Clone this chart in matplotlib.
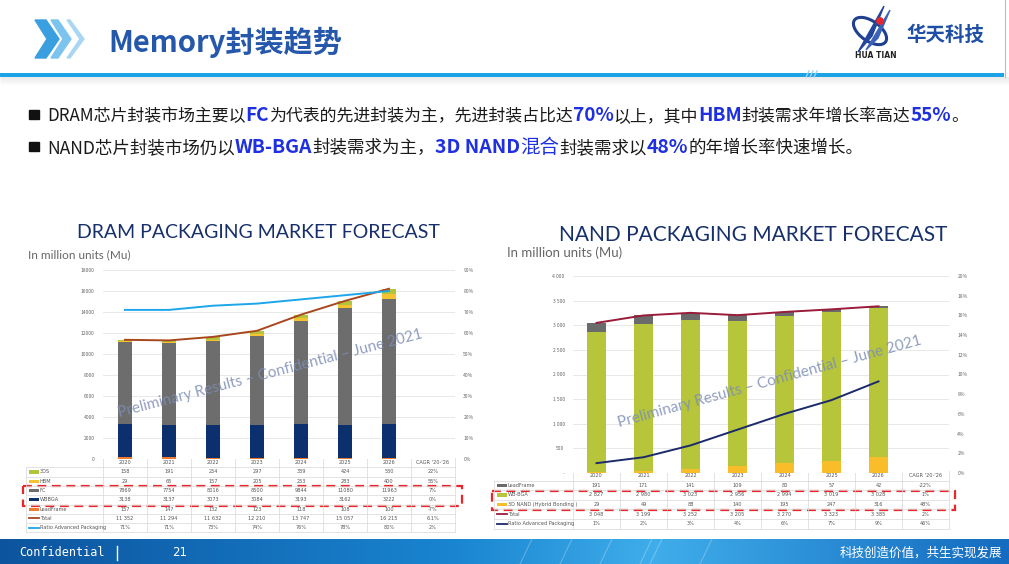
import numpy as np
import matplotlib.pyplot as plt
from matplotlib.transforms import blended_transform_factory
from matplotlib.patches import Rectangle, Polygon, Circle, Ellipse
from matplotlib.font_manager import FontProperties

plt.rcParams['font.family'] = ['Noto Sans CJK SC', 'DejaVu Sans']

# ---- data ----
years = ['2020', '2021', '2022', '2023', '2024', '2025', '2026']

dram_3ds = [158, 191, 254, 297, 339, 424, 530]
dram_hbm = [29, 65, 157, 205, 253, 283, 400]
dram_fc = [7869, 7754, 8016, 8500, 9844, 11080, 11963]
dram_wbbga = [3138, 3137, 3073, 3084, 3193, 3162, 3222]
dram_leadframe = [157, 147, 132, 123, 118, 108, 100]
dram_total = [11352, 11294, 11632, 12210, 13747, 15057, 16215]
dram_ratio = [71, 71, 73, 74, 76, 78, 80]
dram_cagr = ['22%', '55%', '7%', '0%', '-7%', '6.1%', '2%']

nand_leadframe = [191, 171, 141, 109, 80, 57, 42]
nand_wbbga = [2827, 2980, 3023, 2956, 2994, 3019, 3028]
nand_3d = [29, 49, 88, 140, 195, 247, 316]
nand_total = [3048, 3199, 3252, 3205, 3270, 3323, 3385]
nand_ratio = [1.0, 1.6, 2.8, 4.4, 6.0, 7.4, 9.3]
nand_ratio_labels = ['1%', '2%', '3%', '4%', '6%', '7%', '9%']
nand_cagr = ['-22%', '1%', '48%', '2%', '46%']

bullet1 = [('DRAM芯片封装市场主要以', False), ('FC', True), ('为代表的先进封装为主，先进封装占比达', False),
           ('70%', True), ('以上，其中', False), ('HBM', True), ('封装需求年增长率高达', False),
           ('55%', True), ('。', False)]
bullet2 = [('NAND芯片封装市场仍以', False), ('WB-BGA', True), ('封装需求为主，', False),
           ('3D NAND', True), ('混合', 'blue'), ('封装需求以', False), ('48%', True),
           ('的年增长率快速增长。', False)]

W, H = 1009, 564
fig = plt.figure(figsize=(W / 100, H / 100), dpi=100)
bg = fig.add_axes([0, 0, 1, 1])
bg.set_xlim(0, W)
bg.set_ylim(H, 0)
bg.axis('off')
renderer = fig.canvas.get_renderer()

DARK = '#1a1a1a'
BLUE = '#1f30e0'
NAVY = '#17306b'
GRID = '#e4e4e4'


def rect(l, t, r, b):
    return [l / W, 1 - b / H, (r - l) / W, (b - t) / H]


# ---- header ----
bg.add_patch(Polygon([(35, 20), (46, 20), (59, 39), (46, 58), (35, 58), (47, 39)], color='#3a9fe0'))
bg.add_patch(Polygon([(51, 20), (58, 20), (71, 39), (58, 58), (51, 58), (63, 39)], color='#7cc3ee'))
bg.add_patch(Polygon([(67, 20), (70, 20), (84, 39), (70, 58), (67, 58), (80, 39)], color='#a9d7f3'))
bg.text(108, 42, 'Memory封装趋势', fontsize=21, fontweight='bold', color='#2557ab', va='center')

for i in range(8):
    bg.plot([0, W], [77 + i, 77 + i], color='#888888', alpha=0.12 * (1 - i / 8), lw=1, solid_capstyle='butt')
bg.add_patch(Rectangle((0, 73), 1004, 4, color='#1ba3e6', lw=0))
for dx in (806, 810, 814):
    bg.plot([dx, dx + 3], [77, 71], color='#9ad4f2', lw=1)
bg.plot([1005, 1005], [0, 77], color='#bbbbbb', lw=0.8)

# logo
bg.add_patch(Ellipse((870, 31), 38, 20, angle=35, fill=False, ec='#1f3f8f', lw=2.2))
bg.add_patch(Polygon([(858, 52), (884, 6), (872, 36)], color='#23469a'))
bg.add_patch(Polygon([(866, 50), (890, 10), (878, 38)], color='#3a63b8'))
bg.add_patch(Circle((880, 21), 3.2, color='#e8262b'))
bg.text(876, 56, 'HUA TIAN', fontsize=5.5, fontweight='bold', color='#222222', ha='center', va='center',
        family='DejaVu Sans')
bg.text(945, 35, '华天科技', fontsize=14, fontweight='bold', color='#1f4ea6', ha='center', va='center')


# ---- bullets ----
def advance(s, size, weight):
    # width of s measured against a trailing bar, so side bearings don't leave gaps
    prop = FontProperties(family=['Noto Sans CJK SC', 'DejaVu Sans'], size=size, weight=weight)
    w1 = renderer.get_text_width_height_descent(s + '|', prop, False)[0]
    w2 = renderer.get_text_width_height_descent('|', prop, False)[0]
    return w1 - w2


def draw_runs(x, y, runs, norm=12.2, big=13.7):
    for s, hl in runs:
        if hl is True:
            size, weight, color = big, 'bold', BLUE
        elif hl == 'blue':
            size, weight, color = big, 'normal', BLUE
        else:
            size, weight, color = norm, 'normal', DARK
        bg.text(x, y, s, fontsize=size, fontweight=weight, color=color, va='baseline')
        x += advance(s, size, weight)


bg.add_patch(Rectangle((29, 110), 10, 9, color='#111111'))
draw_runs(47, 121, bullet1)
bg.add_patch(Rectangle((29, 142), 10, 9, color='#111111'))
draw_runs(47, 153, bullet2, norm=12.6, big=14)


# ---- table helper ----
def draw_table(ax, left, right, top, row_h, header, rows):
    tr = blended_transform_factory(ax.transData, bg.transData)
    n_rows = len(rows) + 1
    bottom = top + row_h * n_rows
    for i, h in enumerate(header):
        bg.text(i, top + row_h / 2, h, transform=tr, fontsize=3.6, color='#555555',
                ha='center', va='center', family='DejaVu Sans')
    for i in range(len(header) + 1):
        bg.plot([i - 0.5, i - 0.5], [top, bottom], transform=tr, color='#d8d8d8', lw=0.5)
    bg.plot([left, left], [top + row_h, bottom], color='#d8d8d8', lw=0.5)
    for j in range(1, n_rows + 1):
        bg.plot([left, right], [top + row_h * j, top + row_h * j], color='#d8d8d8', lw=0.5)
    for j, (label, color, kind, cells) in enumerate(rows):
        yc = top + row_h * (j + 1.5)
        if kind == 'bar':
            bg.add_patch(Rectangle((left + 3, yc - 1.6), 10, 3.2, color=color, lw=0))
        else:
            bg.plot([left + 3, left + 13], [yc, yc], color=color, lw=1.3)
        bg.text(left + 14, yc, label, fontsize=3.6, color='#555555', va='center', family='DejaVu Sans')
        for i, c in enumerate(cells):
            bg.text(i, yc, c, transform=tr, fontsize=3.6, color='#555555', ha='center', va='center',
                    family='DejaVu Sans')


def style_axes(ax, ax2):
    for a in (ax, ax2):
        for s in a.spines.values():
            s.set_visible(False)
        a.tick_params(length=0, labelsize=3.6, labelcolor='#666666', pad=6)
    ax.set_xticks([])
    ax.set_xlim(-0.5, 7.5)
    ax.yaxis.grid(True, color=GRID, lw=0.6)
    ax.set_axisbelow(True)


x = np.arange(len(years))

# ---- DRAM chart ----
ax = fig.add_axes(rect(103, 270, 455, 459))
ax2 = ax.twinx()
style_axes(ax, ax2)
bottom = np.zeros(len(years))
dram_stack = [(dram_leadframe, '#f07b2f'), (dram_wbbga, '#0c2f6e'), (dram_fc, '#6d6d6d'),
              (dram_hbm, '#f5c330'), (dram_3ds, '#b3c43a')]
for vals, c in dram_stack:
    ax.bar(x, vals, 0.31, bottom=bottom, color=c, lw=0)
    bottom += np.array(vals)
ax.plot(x, dram_total, color='#a8471e', lw=1.4)
ax.set_ylim(0, 18000)
ax.set_yticks(range(0, 18001, 2000))
ax2.plot(x, dram_ratio, color='#1ea6ea', lw=1.4)
ax2.set_ylim(0, 90)
ax2.set_yticks(range(0, 91, 10))
ax2.set_yticklabels([f'{v}%' for v in range(0, 91, 10)])
ax2.set_xlim(-0.5, 7.5)

fig.text(258 / W, 1 - 233 / H, 'DRAM PACKAGING MARKET FORECAST', fontsize=14, color=NAVY,
         ha='center', va='center', family='Lato')
fig.text(28 / W, 1 - 255 / H, 'In million units (Mu)', fontsize=8.5, color='#666666',
         va='center', family='Lato')

fmt = lambda v: f'{v:,}'.replace(',', ' ')
dram_rows = [
    ('3DS', '#b3c43a', 'bar', [str(v) for v in dram_3ds] + [dram_cagr[0]]),
    ('HBM', '#f5c330', 'bar', [str(v) for v in dram_hbm] + [dram_cagr[1]]),
    ('FC', '#6d6d6d', 'bar', [str(v) for v in dram_fc] + [dram_cagr[2]]),
    ('WBBGA', '#0c2f6e', 'bar', [str(v) for v in dram_wbbga] + [dram_cagr[3]]),
    ('LeadFrame', '#f07b2f', 'bar', [str(v) for v in dram_leadframe] + [dram_cagr[4]]),
    ('Total', '#a8471e', 'line', [fmt(v) for v in dram_total] + [dram_cagr[5]]),
    ('Ratio Advanced Packaging', '#1ea6ea', 'line', [f'{v}%' for v in dram_ratio] + [dram_cagr[6]]),
]
draw_table(ax, 26, 455, 458, 9.3, years + ["CAGR '20-'26"], dram_rows)
bg.add_patch(Rectangle((23, 486), 439, 20, fill=False, ec='#e8262b', lw=1.6, ls=(0, (4, 2.5))))

# ---- NAND chart ----
bx = fig.add_axes(rect(573, 276, 949, 473))
bx2 = bx.twinx()
style_axes(bx, bx2)
bottom = np.zeros(len(years))
nand_stack = [(nand_3d, '#f9bd2a'), (nand_wbbga, '#b6c53a'), (nand_leadframe, '#6b6b6b')]
for vals, c in nand_stack:
    bx.bar(x, vals, 0.41, bottom=bottom, color=c, lw=0)
    bottom += np.array(vals)
bx.plot(x, nand_total, color='#9b1b3a', lw=1.4)
bx.set_ylim(0, 4000)
bx.set_yticks(range(0, 4001, 500))
bx.set_yticklabels(['-'] + [fmt(v) for v in range(500, 4001, 500)])
bx2.plot(x, nand_ratio, color='#1b2a6b', lw=1.4)
bx2.set_ylim(0, 20)
bx2.set_yticks(range(0, 21, 2))
bx2.set_yticklabels([f'{v}%' for v in range(0, 21, 2)])
bx2.set_xlim(-0.5, 7.5)

fig.text(753 / W, 1 - 235 / H, 'NAND PACKAGING MARKET FORECAST', fontsize=15, color=NAVY,
         ha='center', va='center', family='Lato')
fig.text(507 / W, 1 - 253 / H, 'In million units (Mu)', fontsize=9.5, color='#666666',
         va='center', family='Lato')

nand_rows = [
    ('LeadFrame', '#6b6b6b', 'bar', [str(v) for v in nand_leadframe] + [nand_cagr[0]]),
    ('WB-BGA', '#b6c53a', 'bar', [fmt(v) for v in nand_wbbga] + [nand_cagr[1]]),
    ('3D NAND (Hybrid Bonding )', '#f9bd2a', 'bar', [str(v) for v in nand_3d] + [nand_cagr[2]]),
    ('Total', '#9b1b3a', 'line', [fmt(v) for v in nand_total] + [nand_cagr[3]]),
    ('Ratio Advanced Packaging', '#1b2a6b', 'line', nand_ratio_labels + [nand_cagr[4]]),
]
draw_table(bx, 494, 949, 471, 9.6, years + ["CAGR '20-'26"], nand_rows)
bg.add_patch(Rectangle((492, 491), 463, 19, fill=False, ec='#e8262b', lw=1.6, ls=(0, (4, 2.5))))

# ---- watermarks ----
wm = 'Preliminary Results – Confidential – June 2021'
fig.text(270 / W, 1 - 374 / H, wm, fontsize=11, color='#7d8db4', alpha=0.85, rotation=14.6,
         ha='center', va='center', family='Lato', rotation_mode='anchor', zorder=10)
fig.text(770 / W, 1 - 382 / H, wm, fontsize=11, color='#7d8db4', alpha=0.85, rotation=15.3,
         ha='center', va='center', family='Lato', rotation_mode='anchor', zorder=10)

# ---- footer ----
grad = np.linspace(0, 1, 400)
r = np.interp(grad, [0, 0.45, 0.65, 1], [0.05, 0.10, 0.25, 0.08])
g = np.interp(grad, [0, 0.45, 0.65, 1], [0.33, 0.52, 0.68, 0.42])
b = np.interp(grad, [0, 0.45, 0.65, 1], [0.62, 0.82, 0.92, 0.75])
img = np.dstack([r, g, b])
bg.imshow(img, extent=[0, W, 564, 539], aspect='auto', zorder=1)
bg.set_xlim(0, W)
bg.set_ylim(H, 0)
for xs in (520, 560, 600, 640, 650, 700):
    bg.plot([xs, xs + 12], [564, 539], color='white', alpha=0.25, lw=0.8, zorder=2)
bg.text(19, 553, 'Confidential', fontsize=8.5, color='white', va='center', family='DejaVu Sans Mono', zorder=3)
bg.plot([117, 117], [546, 560], color='white', lw=1, zorder=3)
bg.text(172, 553, '21', fontsize=8.5, color='white', va='center', family='DejaVu Sans', zorder=3)
bg.text(1002, 553, '科技创造价值，共生实现发展', fontsize=9, color='white', ha='right', va='center', zorder=3)

fig.savefig('out.png', dpi=100)
